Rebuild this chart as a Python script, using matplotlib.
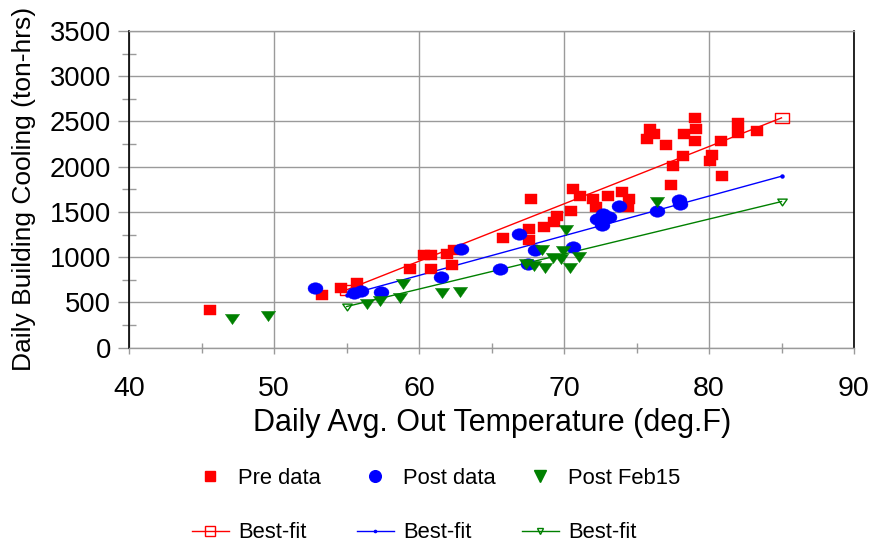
import numpy as np
import matplotlib.pyplot as plt
from matplotlib.lines import Line2D
from matplotlib.path import Path

plt.rcParams['font.family'] = ['Liberation Sans', 'DejaVu Sans']

# daily avg outdoor temperature (deg F) vs daily building cooling (ton-hrs)
pre_temp = [45.6, 53.3, 54.6, 55.7, 59.4, 60.3, 60.8, 60.8, 61.9, 62.3, 62.4,
            65.8, 67.6, 67.6, 67.7, 68.6, 69.3, 69.5, 70.5, 70.6, 71.1, 72.0,
            72.2, 73.0, 74.0, 74.4, 74.5, 75.7, 75.9, 76.2, 77.0, 77.4, 77.5,
            78.2, 78.3, 79.0, 79.0, 79.1, 80.1, 80.2, 80.8, 80.9, 82.0, 82.0,
            83.3]
pre_cool = [420, 585, 660, 715, 875, 1020, 1025, 875, 1030, 910, 1085,
            1215, 1190, 1315, 1645, 1330, 1390, 1455, 1510, 1750, 1680, 1645,
            1560, 1680, 1720, 1555, 1640, 2310, 2415, 2365, 2245, 1795, 2005,
            2120, 2365, 2540, 2280, 2415, 2060, 2125, 2285, 1900, 2485, 2375,
            2395]

post_temp = [52.8, 55.5, 56.0, 57.4, 61.5, 62.9, 65.6, 66.9, 67.5, 68.0,
             70.6, 72.3, 72.6, 72.7, 73.1, 73.8, 76.4, 77.9, 78.0]
post_cool = [655, 610, 625, 620, 785, 1095, 865, 1255, 920, 1080,
             1110, 1420, 1360, 1480, 1440, 1570, 1515, 1635, 1590]

feb_temp = [47.1, 49.6, 56.4, 57.3, 58.7, 58.9, 61.6, 62.8, 67.4, 67.9,
            68.5, 68.7, 69.2, 69.8, 69.9, 70.1, 70.4, 71.0, 76.4]
feb_cool = [320, 350, 480, 520, 550, 700, 610, 620, 920, 905,
            1075, 885, 995, 980, 1070, 1300, 880, 1005, 1610]

# best-fit lines, end points only
fit_temp = [55, 85]
pre_fit = [640, 2540]
post_fit = [580, 1895]
feb_fit = [455, 1615]

red, blue, green = '#ff0000', '#0000ff', '#008000'
grey = '#9a9a9a'


def shape(verts):
    verts = list(verts) + [verts[0]]
    return Path(verts, closed=True)


# the plotted markers are a little wider than tall
box = shape([(-1.3, -1), (1.3, -1), (1.3, 1), (-1.3, 1)])
t = np.linspace(0, 2 * np.pi, 48, endpoint=False)
oval = shape(list(zip(1.3 * np.cos(t), np.sin(t))))
tri = shape([(-1.4, 1), (1.4, 1), (0, -1)])

fig = plt.figure(figsize=(8.73, 5.46), dpi=100)
ax = fig.add_axes([0.1481, 0.3632, 0.8301, 0.58])

ax.plot(fit_temp, pre_fit, color=red, lw=1, marker=box, ms=10,
        mfc='none', mec=red, mew=1)
ax.plot(fit_temp, post_fit, color=blue, lw=1, marker='o', ms=2.2,
        mfc=blue, mec=blue)
ax.plot(fit_temp, feb_fit, color=green, lw=1, marker=tri, ms=6.8,
        mfc='none', mec=green, mew=1)

ax.plot(pre_temp, pre_cool, ls='none', marker=box, ms=8.6,
        mfc=red, mec=red, mew=0.3)
ax.plot(post_temp, post_cool, ls='none', marker=oval, ms=10.8,
        mfc=blue, mec=blue, mew=0.3)
ax.plot(feb_temp, feb_cool, ls='none', marker=tri, ms=10.3,
        mfc=green, mec=green, mew=0.3)

ax.set_xlim(40, 90)
ax.set_ylim(0, 3500)
ax.set_xticks(range(40, 91, 10))
ax.set_xticks(range(45, 90, 10), minor=True)
ax.set_yticks(range(0, 3501, 500))
ax.set_yticks(range(250, 3500, 500), minor=True)

ax.grid(True, which='major', color=grey, lw=1)
ax.set_axisbelow(True)
for side in ['left', 'right']:
    ax.spines[side].set_color('black')
    ax.spines[side].set_linewidth(1.2)
for side in ['top', 'bottom']:
    ax.spines[side].set_color(grey)
    ax.spines[side].set_linewidth(1)

ax.tick_params(axis='x', which='major', direction='out', length=4.5,
               width=1, color=grey, labelsize=20.5, pad=16)
ax.tick_params(axis='x', which='minor', direction='inout', length=6.5,
               width=1, color=grey)
ax.tick_params(axis='y', which='major', direction='out', length=8,
               width=1, color=grey, labelsize=19.7, pad=5)
ax.tick_params(axis='y', which='minor', direction='inout', length=10,
               width=1, color=grey)

ax.set_xlabel('Daily Avg. Out Temperature (deg.F)', fontsize=22, labelpad=4)
ax.set_ylabel('Daily Building Cooling (ton-hrs)', fontsize=19, labelpad=10)

# legend: three columns, data on top row and its fit underneath
groups = [
    (Line2D([], [], ls='none', marker='s', ms=7, color=red),
     Line2D([], [], color=red, lw=1, marker='s', ms=7, mfc='none', mec=red),
     'Pre data', 0.2196),
    (Line2D([], [], ls='none', marker='o', ms=8.4, color=blue),
     Line2D([], [], color=blue, lw=1, marker='o', ms=1.6),
     'Post data', 0.4086),
    (Line2D([], [], ls='none', marker='v', ms=8, color=green),
     Line2D([], [], color=green, lw=1, marker='v', ms=5, mfc='none', mec=green),
     'Post Feb15', 0.5976),
]
for dot, line, name, x0 in groups:
    fig.legend([dot, line], [name, 'Best-fit'], loc='upper left',
               bbox_to_anchor=(x0, 1 - 468 / 546), frameon=False,
               fontsize=15.8, handlelength=1.68, handletextpad=0.44,
               labelspacing=1.52, borderpad=0, borderaxespad=0)

fig.savefig('out.png', dpi=100)
